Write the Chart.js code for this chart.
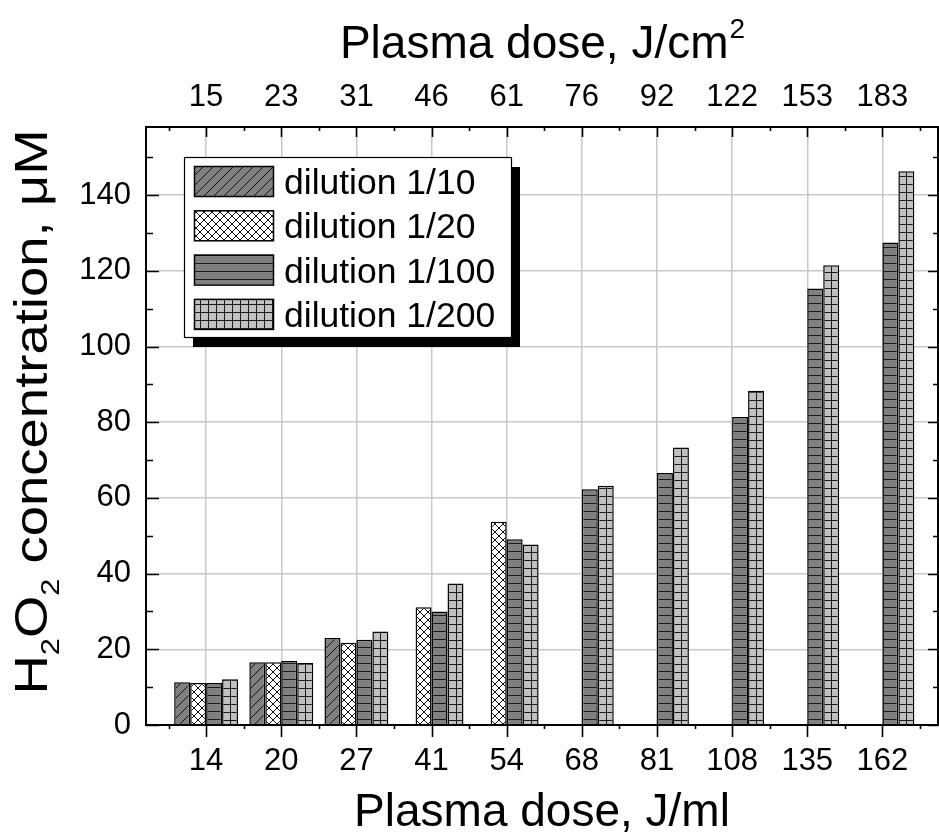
<!DOCTYPE html>
<html>
<head>
<meta charset="utf-8">
<script src="https://cdn.jsdelivr.net/npm/chart.js@4.4.1/dist/chart.umd.min.js"></script>
<style>
  html, body { margin: 0; padding: 0; background: #fff; }
  #caja { width: 939px; height: 836px; }
</style>
</head>
<body>
<div id="caja"><canvas id="grafico"></canvas></div>
<script>
// datos
const dosisMl = ["14", "20", "27", "41", "54", "68", "81", "108", "135", "162"];
const dosisCm2 = ["15", "23", "31", "46", "61", "76", "92", "122", "153", "183"];
const series = ["dilution 1/10", "dilution 1/20", "dilution 1/100", "dilution 1/200"];
const dil10 = [11.3, 16.6, 23.0, null, null, null, null, null, null, null];
const dil20 = [11.1, 16.6, 21.7, 31.1, 53.7, null, null, null, null, null];
const dil100 = [11.1, 16.9, 22.5, 30.0, 49.1, 62.3, 66.6, 81.4, 115.3, 127.5];
const dil200 = [12.1, 16.4, 24.7, 37.4, 47.7, 63.2, 73.3, 88.3, 121.5, 146.3];
const yTicks = [0, 20, 40, 60, 80, 100, 120, 140];

const FUENTE = "'Liberation Sans', Arial, Helvetica, sans-serif";
const ctxG = document.getElementById("grafico").getContext("2d");

// tramas de relleno
function trama(tipo){
    let c = document.createElement("canvas");
    let w = tipo == "diag" ? 10 : 8;
    c.width = w; c.height = 8;
    if (tipo == "diag") c.height = 10;
    let g = c.getContext("2d");
    g.strokeStyle = "#111";
    g.lineWidth = 1;
    if (tipo == "diag"){
        g.fillStyle = "#808080"; g.fillRect(0, 0, 10, 10);
        g.beginPath();
        g.moveTo(-1, 11); g.lineTo(11, -1);
        g.moveTo(-1, 1); g.lineTo(1, -1);
        g.moveTo(9, 11); g.lineTo(11, 9);
        g.stroke();
    } else if (tipo == "cruz"){
        g.fillStyle = "#fff"; g.fillRect(0, 0, 8, 8);
        g.beginPath();
        g.moveTo(-1, 9); g.lineTo(9, -1);
        g.moveTo(-1, -1); g.lineTo(9, 9);
        g.stroke();
    } else if (tipo == "horiz"){
        g.fillStyle = "#808080"; g.fillRect(0, 0, 8, 8);
        g.fillStyle = "#1a1a1a"; g.fillRect(0, 7, 8, 1.4);
    } else {
        g.fillStyle = "#c0c0c0"; g.fillRect(0, 0, 8, 8);
        g.fillStyle = "#1a1a1a";
        g.fillRect(0, 0, 8, 1); g.fillRect(0, 0, 1, 8);
    }
    return ctxG.createPattern(c, "repeat");
}
const tipos = ["diag", "cruz", "horiz", "rejilla"];
const tramas = tipos.map(t => trama(t));

const CAT_PCT = 0.85;

// alinea la trama con el borde izquierdo de cada barra
function rellenoBarra(k){
    return function(context){
        let chart = context.chart;
        let x = chart.scales.x;
        if (context.type != "data" || !x || x.right == null) return tramas[k];
        let paso = x.getPixelForValue(2) - x.getPixelForValue(1);
        let grupo = paso * CAT_PCT;
        let izq = x.getPixelForValue(context.dataIndex + 1) - grupo / 2 + k * grupo / 4;
        let p = trama(tipos[k]);
        p.setTransform(new DOMMatrix([1, 0, 0, 1, Math.round(izq), 0]));
        return p;
    };
}

function puntos(arr){
    return arr.map((v, i) => ({x: i + 1, y: v}));
}

const valores = [dil10, dil20, dil100, dil200];

const marco = {
    id: "marco",
    afterDatasetsDraw(chart){
        let ctx = chart.ctx;
        let {left, right, top, bottom} = chart.chartArea;
        let x = chart.scales.x, y = chart.scales.y;
        ctx.save();
        ctx.strokeStyle = "#000";
        ctx.lineWidth = 2;
        ctx.strokeRect(left, top, right - left, bottom - top);
        ctx.lineWidth = 1.6;
        ctx.beginPath();
        for (let v = 0; v <= 150; v += 10){
            let py = Math.round(y.getPixelForValue(v)) + 0.5;
            let mayor = v % 20 == 0;
            ctx.moveTo(left, py); ctx.lineTo(left + (mayor ? 13 : 7), py);
            ctx.moveTo(right, py); ctx.lineTo(right - (mayor ? 10 : 5), py);
        }
        for (let i = 1; i <= dosisMl.length; i++){
            let px = Math.round(x.getPixelForValue(i)) + 0.5;
            ctx.moveTo(px, bottom); ctx.lineTo(px, bottom + 12);
            ctx.moveTo(px, top); ctx.lineTo(px, top + 10);
        }
        for (let i = 0; i <= dosisMl.length; i++){
            let px = Math.round(x.getPixelForValue(i + 0.5)) + 0.5;
            if (px <= left + 2 || px >= right - 2) continue;
            ctx.moveTo(px, bottom); ctx.lineTo(px, bottom + 4);
            ctx.moveTo(px, top); ctx.lineTo(px, top + 4);
        }
        ctx.stroke();
        ctx.restore();
    },
    afterDraw(chart){
        let ctx = chart.ctx;
        let {left, right, top, bottom} = chart.chartArea;
        ctx.save();
        ctx.fillStyle = "#000";

        // titulo superior con superindice
        ctx.textBaseline = "alphabetic";
        ctx.textAlign = "left";
        ctx.font = "46px " + FUENTE;
        let t1 = "Plasma dose, J/cm";
        let w1 = ctx.measureText(t1).width;
        ctx.font = "28px " + FUENTE;
        let w2 = ctx.measureText("2").width;
        let x0 = (left + right) / 2 - (w1 + w2) / 2;
        ctx.font = "46px " + FUENTE;
        ctx.fillText(t1, x0, 58);
        ctx.font = "28px " + FUENTE;
        ctx.fillText("2", x0 + w1 + 1, 38);

        // titulo eje y con subindices
        let partes = [
            {t: "H", sub: false}, {t: "2", sub: true},
            {t: "O", sub: false}, {t: "2", sub: true},
            {t: " concentration, \u03bcM", sub: false}
        ];
        let total = 0;
        partes.forEach(p => {
            ctx.font = (p.sub ? "26px " : "46px ") + FUENTE;
            p.w = ctx.measureText(p.t).width;
            total += p.w;
        });
        let largo = 565;
        ctx.translate(47, 412);
        ctx.rotate(-Math.PI / 2);
        ctx.scale(largo / total, 1);
        let cx = -total / 2;
        partes.forEach(p => {
            ctx.font = (p.sub ? "26px " : "46px ") + FUENTE;
            ctx.fillText(p.t, cx, p.sub ? 12 : 0);
            cx += p.w;
        });
        ctx.restore();

        // leyenda con sombra
        ctx.save();
        let lx = 184, ly = 157, lw = 327, lh = 180;
        ctx.fillStyle = "#000";
        ctx.fillRect(lx + 9, ly + 10, lw, lh);
        ctx.fillStyle = "#fff";
        ctx.fillRect(lx, ly, lw, lh);
        ctx.strokeStyle = "#000";
        ctx.lineWidth = 1.2;
        ctx.strokeRect(lx + 0.5, ly + 0.5, lw, lh);
        chart.data.datasets.forEach((ds, i) => {
            let fy = ly + 9 + i * 44.3;
            ctx.fillStyle = tramas[i];
            ctx.fillRect(194, fy, 79, 30);
            ctx.lineWidth = 1.5;
            ctx.strokeRect(194.5, fy + 0.5, 79, 30);
            ctx.fillStyle = "#000";
            ctx.font = "35.5px " + FUENTE;
            ctx.textAlign = "left";
            ctx.textBaseline = "alphabetic";
            ctx.fillText(ds.label, 284, fy + 28);
        });
        ctx.restore();
    }
};

new Chart(document.getElementById("grafico"), {
    type: "bar",
    data: {
        datasets: series.map((s, k) => ({
            label: s,
            data: puntos(valores[k]),
            backgroundColor: rellenoBarra(k),
            borderColor: "#000",
            borderWidth: 1.5,
            borderSkipped: "start",
            categoryPercentage: CAT_PCT,
            barPercentage: 1.0
        }))
    },
    options: {
        responsive: true,
        maintainAspectRatio: false,
        animation: false,
        events: [],
        layout: { padding: { left: 0, right: 1, top: 0, bottom: 0 } },
        plugins: {
            legend: { display: false },
            tooltip: { enabled: false }
        },
        scales: {
            x: {
                type: "linear",
                position: "bottom",
                min: 0.2,
                max: 10.74,
                offset: false,
                afterBuildTicks: s => { s.ticks = dosisMl.map((d, i) => ({value: i + 1})); },
                afterFit: s => { s.height = 111; },
                grid: { offset: false, color: "#c8c8c8", lineWidth: 1.5, drawTicks: false },
                border: { display: false },
                ticks: {
                    autoSkip: false,
                    maxRotation: 0,
                    padding: 18,
                    color: "#000",
                    font: { family: FUENTE, size: 31 },
                    callback: v => dosisMl[v - 1]
                },
                title: {
                    display: true,
                    text: "Plasma dose, J/ml",
                    color: "#000",
                    font: { family: FUENTE, size: 46, lineHeight: 1 },
                    padding: { top: 0, bottom: 0 }
                }
            },
            x2: {
                type: "linear",
                position: "top",
                min: 0.2,
                max: 10.74,
                offset: false,
                afterBuildTicks: s => { s.ticks = dosisCm2.map((d, i) => ({value: i + 1})); },
                afterFit: s => { s.height = 127; },
                grid: { display: false, drawTicks: false },
                border: { display: false },
                ticks: {
                    autoSkip: false,
                    maxRotation: 0,
                    padding: 11,
                    color: "#000",
                    font: { family: FUENTE, size: 31 },
                    callback: v => dosisCm2[v - 1]
                }
            },
            y: {
                min: 0,
                max: 158,
                afterBuildTicks: s => { s.ticks = yTicks.map(v => ({value: v})); },
                afterFit: s => { s.width = 146; },
                grid: { color: "#c8c8c8", lineWidth: 1.5, drawTicks: false },
                border: { display: false },
                ticks: {
                    padding: 15,
                    color: "#000",
                    font: { family: FUENTE, size: 31 }
                }
            }
        }
    },
    plugins: [marco]
});
</script>
</body>
</html>
